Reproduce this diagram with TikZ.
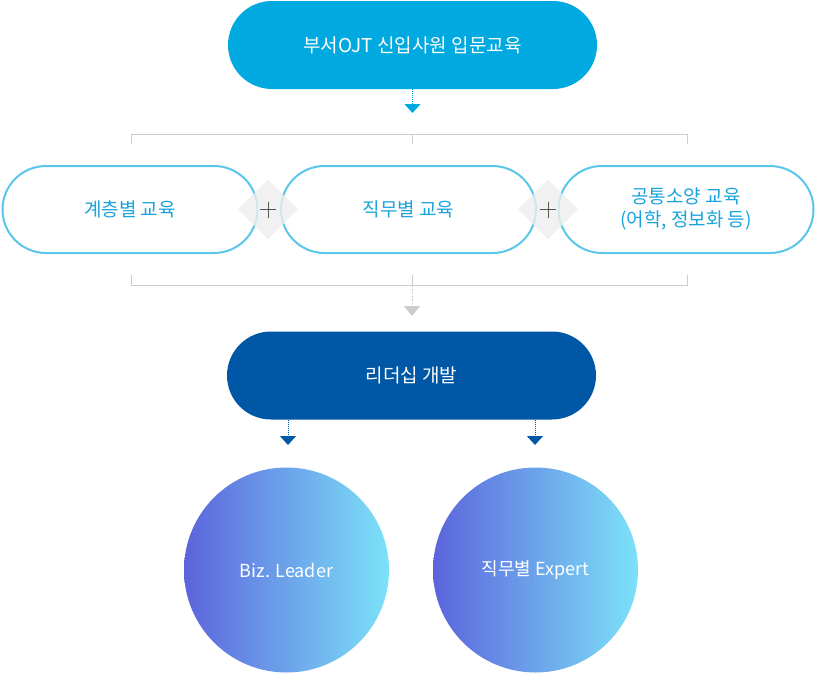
\documentclass[tikz,border=0pt]{standalone}
\usepackage{fontspec}
\setmainfont{Noto Sans CJK KR}
\usetikzlibrary{arrows.meta,shapes.geometric}
\definecolor{topblue}{HTML}{00A9DF}
\definecolor{pillline}{HTML}{5BC6EB}
\definecolor{pilltext}{HTML}{1BA3DD}
\definecolor{darkblue}{HTML}{0057A5}
\definecolor{linegray}{HTML}{CCCCCC}
\definecolor{diagray}{HTML}{EEEEEE}
\definecolor{plusgray}{HTML}{555555}
\definecolor{gradl}{HTML}{5C64DC}
\definecolor{gradr}{HTML}{7CE2F8}
\begin{document}
\begin{tikzpicture}[x=1pt,y=-1pt,
  txt/.style={font=\fontsize{19}{23}\selectfont},
  solidpill/.style={txt,rectangle,rounded corners=44pt,minimum width=369pt,minimum height=88pt,inner sep=0pt,text=white},
  linepill/.style={txt,rectangle,rounded corners=43.5pt,minimum width=255pt,minimum height=87pt,inner sep=0pt,draw=pillline,line width=2pt,fill=white,text=pilltext,align=center},
  joiner/.style={diamond,minimum width=60pt,minimum height=60pt,inner sep=0pt,fill=diagray,fill opacity=0.8,draw=none},
  plus/.style={plusgray,line width=1pt},
  ball/.style={font=\fontsize{18}{22}\selectfont,circle,minimum size=205pt,inner sep=0pt,left color=gradl,right color=gradr,text=white},
  bracket/.style={linegray,line width=1pt},
  dotarrow/.style={densely dotted,line width=1pt,-{Triangle[width=16pt,length=9pt]}}
]
\useasboundingbox (0,0) rectangle (816,672);

% top
\node[solidpill,fill=topblue] (top) at (412.5,45) {부서OJT 신입사원 입문교육};
\coordinate (ta) at (412.5,113);
\draw[dotarrow,topblue] (top.south) -- (ta);

% top bracket
\coordinate (tbl) at (131,134);
\coordinate (tbr) at (687,134);
\coordinate (tbm) at (412,134);
\coordinate (tl) at (131,144);
\coordinate (tm) at (412,144);
\coordinate (tr) at (687,144);
\draw[bracket] (tl) -- (tbl) -- (tbr) -- (tr);
\draw[bracket] (tbm) -- (tm);

% middle pills
\node[linepill] (p1) at (130,209.5) {계층별 교육};
\node[linepill] (p2) at (408.5,209.5) {직무별 교육};
\node[linepill] (p3) at (686,209.5) {공통소양 교육\\(어학, 정보화 등)};

\node[joiner] (j1) at (268,209.5) {};
\node[joiner] (j2) at (548,209.5) {};
\foreach \j in {j1,j2}{
  \draw[plus] (\j.center) +(-8,0) -- +(8,0);
  \draw[plus] (\j.center) +(0,-8) -- +(0,8);
}

% bottom bracket
\coordinate (bl) at (131,275);
\coordinate (bm) at (412,275);
\coordinate (br) at (687,275);
\coordinate (bbl) at (131,285);
\coordinate (bbm) at (412,285);
\coordinate (bbr) at (687,285);
\coordinate (ga) at (412,316);
\draw[bracket] (bl) -- (bbl) -- (bbr) -- (br);
\draw[bracket] (bm) -- (bbm);
\draw[linegray,line width=1pt,dash pattern=on 2pt off 1.5pt,-{Triangle[width=16pt,length=10pt]}] (bbm) -- (ga);

% leadership
\node[solidpill,fill=darkblue] (lead) at (411.5,375.5) {리더십 개발};
\coordinate (la) at (288,445);
\coordinate (ra) at (535,445);
\draw[dotarrow,darkblue] (lead.south -| la) -- (la);
\draw[dotarrow,darkblue] (lead.south -| ra) -- (ra);

% circles
\node[ball] (c1) at (286.5,570) {Biz. Leader};
\node[ball] (c2) at (535.5,570) {직무별 Expert};
\end{tikzpicture}
\end{document}
